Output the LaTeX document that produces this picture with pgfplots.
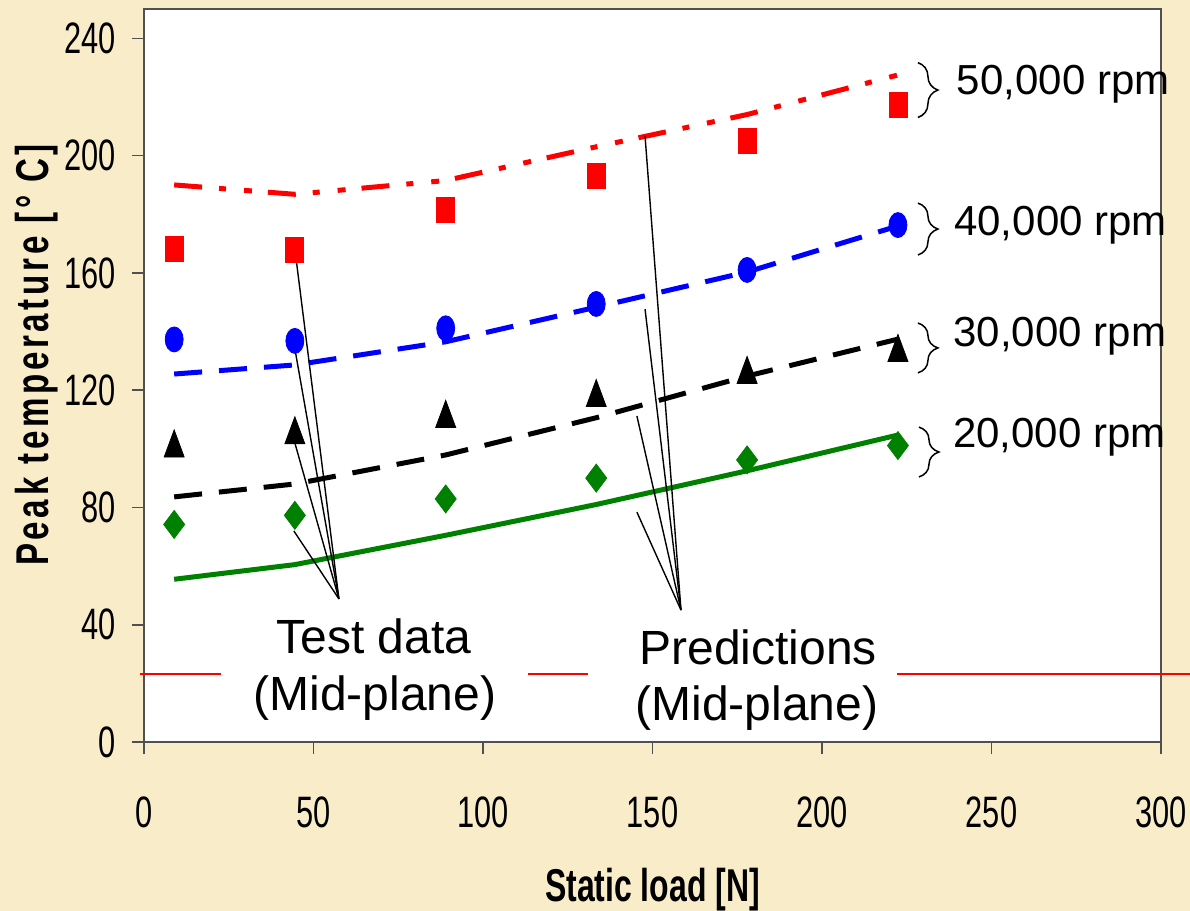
\documentclass[border=0pt]{standalone}
\usepackage{fontspec}
\setmainfont{Liberation Sans}
\newfontfamily\narrowfont[FakeStretch=0.70]{Liberation Sans}
\newfontfamily\xlabfont[FakeStretch=0.695]{Liberation Sans}
\newfontfamily\ylabfont[FakeStretch=0.72, LetterSpace=8]{Liberation Sans}
\usepackage{pgfplots}
\pgfplotsset{compat=1.18}
\usetikzlibrary{decorations.pathreplacing}
\definecolor{bg}{RGB}{249,236,201}
\definecolor{xred}{RGB}{255,0,0}
\definecolor{xblue}{RGB}{0,0,255}
\definecolor{xgreen}{RGB}{0,128,0}
\definecolor{axgray}{RGB}{80,80,80}
\begin{document}
\begin{tikzpicture}
\useasboundingbox (0,0) rectangle (595bp,455.5bp);
\fill[bg] (0,0) rectangle (595bp,455.5bp);
\begin{axis}[
  at={(72bp,84.5bp)}, anchor=south west,
  scale only axis, width=508.5bp, height=366.5bp,
  xmin=0, xmax=300, ymin=0, ymax=250,
  xtick={0,50,...,300}, ytick={0,40,...,240},
  axis background/.style={fill=white},
  axis line style={draw=axgray, line width=1bp},
  tick style={draw=axgray, line width=0.8bp},
  tick align=outside, major tick length=6bp,
  tick pos=left,
  ticklabel style={font=\narrowfont\fontsize{22bp}{24bp}\selectfont, inner sep=0pt},
  /pgf/number format/assume math mode=true,
  yticklabel style={xshift=-8bp},
  xticklabel style={yshift=-21bp},
  clip=false,
]
% predictions (lines)
\addplot[xred, line width=2.5bp, dash pattern=on 14bp off 8.5bp on 3.5bp off 9bp on 4bp off 8bp]
  coordinates {(8.9,190.0) (44.5,186.8) (89,191.5) (133.4,203.0) (177.9,214.0) (222.4,227.5)};
\addplot[xblue, line width=2.5bp, dash pattern=on 14bp off 8.5bp]
  coordinates {(8.9,125.5) (44.5,128.6) (89,136.5) (133.4,148.3) (177.9,160.3) (222.4,176.0)};
\addplot[black, line width=2.5bp, dash pattern=on 14bp off 8.5bp]
  coordinates {(8.9,83.6) (44.5,88.0) (89,97.9) (133.4,110.6) (177.9,124.8) (222.4,137.4)};
\addplot[xgreen, line width=2.5bp]
  coordinates {(8.9,55.5) (44.5,60.5) (89,70.5) (133.4,81.0) (177.9,92.5) (222.4,104.7)};
% test data (marks)
\addplot[only marks, mark=square*, mark size=4.5bp, color=xred, mark options={yscale=1.39}]
  coordinates {(8.9,168.1) (44.5,168.0) (89,181.4) (133.4,193.0) (177.9,205.0) (222.4,217.2)};
\addplot[only marks, mark=*, mark size=4.5bp, color=xblue, mark options={yscale=1.39}]
  coordinates {(8.9,137.3) (44.5,136.8) (89,141.1) (133.4,149.4) (177.9,161.0) (222.4,176.3)};
\addplot[only marks, mark=triangle*, mark size=5.77bp, color=black, mark options={yscale=1.56, yshift=-1.44bp}]
  coordinates {(8.9,101.8) (44.5,106.3) (89,111.9) (133.4,119.0) (177.9,126.9) (222.4,134.4)};
\addplot[only marks, mark=diamond*, mark size=7bp, color=xgreen]
  coordinates {(8.9,74.2) (44.5,77.3) (89,82.9) (133.4,90.0) (177.9,96.2) (222.4,101.1)};
% pointer lines
\draw[black, line width=0.7bp] (axis cs:44.2,170.9) -- (axis cs:57.5,48.8);
\draw[black, line width=0.7bp] (axis cs:44.2,136.1) -- (axis cs:57.5,48.8);
\draw[black, line width=0.7bp] (axis cs:44.5,102.0) -- (axis cs:57.5,48.8);
\draw[black, line width=0.7bp] (axis cs:44.2,72.0) -- (axis cs:57.5,48.8);
\draw[black, line width=0.7bp] (axis cs:147.8,206.7) -- (axis cs:158.4,45.0);
\draw[black, line width=0.7bp] (axis cs:147.8,147.6) -- (axis cs:158.4,45.0);
\draw[black, line width=0.7bp] (axis cs:145.4,111.2) -- (axis cs:158.4,45.0);
\draw[black, line width=0.7bp] (axis cs:145.4,78.4) -- (axis cs:158.4,45.0);
% red rule
\draw[xred, line width=0.8bp] (axis cs:-1.2,23.2) -- (axis cs:22.7,23.2);
\draw[xred, line width=0.8bp] (axis cs:113.3,23.2) -- (axis cs:131,23.2);
\draw[xred, line width=0.8bp] (axis cs:222.1,23.2) -- (axis cs:308.6,23.2);
% annotation text
\node[anchor=base, inner sep=0pt, font=\fontsize{24bp}{28bp}\selectfont] at (axis cs:67.85,30.35) {Test data};
\node[anchor=base, inner sep=0pt, font=\fontsize{24bp}{28bp}\selectfont] at (axis cs:68.1,10.9) {(Mid-plane)};
\node[anchor=base, inner sep=0pt, font=\fontsize{24bp}{28bp}\selectfont] at (axis cs:181.2,26.6) {Predictions};
\node[anchor=base, inner sep=0pt, font=\fontsize{24bp}{28bp}\selectfont] at (axis cs:180.8,7.2) {(Mid-plane)};
% braces and rpm labels
\draw[decorate, decoration={brace, amplitude=10bp}, line width=0.75bp] (axis cs:228.3,231.7) -- (axis cs:228.3,213.0);
\draw[decorate, decoration={brace, amplitude=10bp}, line width=0.75bp] (axis cs:228.3,183.8) -- (axis cs:228.3,166.1);
\draw[decorate, decoration={brace, amplitude=10bp}, line width=0.75bp] (axis cs:228.3,142.9) -- (axis cs:228.3,125.9);
\draw[decorate, decoration={brace, amplitude=10bp}, line width=0.75bp] (axis cs:228.6,107.4) -- (axis cs:228.6,90.4);
\node[anchor=base west, inner sep=0pt, font=\fontsize{21bp}{24bp}\selectfont] at (axis cs:239.7,220.7) {50,000 rpm};
\node[anchor=base west, inner sep=0pt, font=\fontsize{21bp}{24bp}\selectfont] at (axis cs:238.9,172.9) {40,000 rpm};
\node[anchor=base west, inner sep=0pt, font=\fontsize{21bp}{24bp}\selectfont] at (axis cs:238.7,134.8) {30,000 rpm};
\node[anchor=base west, inner sep=0pt, font=\fontsize{21bp}{24bp}\selectfont] at (axis cs:238.6,100.5) {20,000 rpm};
\end{axis}
\node[rotate=90, anchor=base, inner sep=0pt, font=\ylabfont\bfseries\fontsize{23bp}{26bp}\selectfont] at (24bp,278bp) {Peak temperature [° C]};
\node[anchor=base, inner sep=0pt, font=\xlabfont\bfseries\fontsize{23bp}{26bp}\selectfont] at (326.25bp,5bp) {Static load [N]};
\end{tikzpicture}
\end{document}
